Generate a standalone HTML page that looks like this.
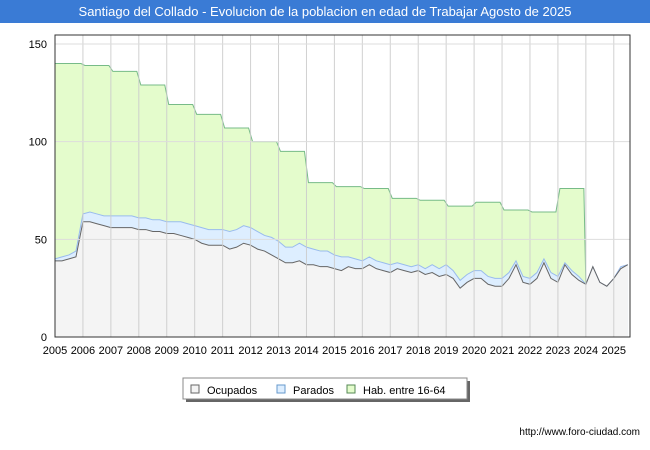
<!DOCTYPE html>
<html><head><meta charset="utf-8"><style>
body{margin:0;background:#fff;font-family:"Liberation Sans",sans-serif}
#wrap{position:relative;width:650px;height:450px;overflow:hidden}
#title{position:absolute;left:0;top:0;width:650px;height:23px;background:#3a7bd5;color:#fff;font-size:13px;text-align:center;line-height:23px}
#url{position:absolute;right:10px;top:427px;font-size:10px;color:#000}
</style></head><body>
<div id="wrap">
<div id="title">Santiago del Collado - Evolucion de la poblacion en edad de Trabajar Agosto de 2025</div>
<svg id="svg" width="650" height="450" style="position:absolute;left:0;top:0"></svg>
<div id="url">http://www.foro-ciudad.com</div>
</div>
<script>
const years=[2005,2006,2007,2008,2009,2010,2011,2012,2013,2014,2015,2016,2017,2018,2019,2020,2021,2022,2023,2024,2025];
const habValues=[140,139,136,129,119,114,107,100,95,79,77,76,71,70,67,69,65,64,76];
const yTicks=[0,50,100,150];
const ocupados=[39,39,40,41,59,59,58,57,56,56,56,56,55,55,54,54,53,53,52,51,50,48,47,47,47,45,46,48,47,45,44,42,40,38,38,39,37,37,36,36,35,34,36,35,35,37,35,34,33,35,34,33,34,32,33,31,32,30,25,28,30,30,27,26,26,30,37,28,27,30,38,30,28,37,32,29,27,36,28,26,30,35,37];
const parados=[1,2,2,3,4,5,5,5,6,6,6,6,6,6,6,6,6,6,7,7,7,8,8,8,8,9,9,9,9,9,8,9,9,8,8,9,9,8,8,8,7,7,5,5,4,4,4,4,4,3,3,3,3,3,4,4,5,4,4,4,4,4,4,4,4,3,2,3,3,3,2,3,3,1,2,2,0,0,0,0,0,1,0];
const NS="http://www.w3.org/2000/svg";
const svg=document.getElementById('svg');
const L=55,R=630,T=35,B=337,X0=2005,X1=2025.58;
const yScale=v=>B-v*293/150;
const xScale=t=>L+(t-X0)/(X1-X0)*(R-L);
function mk(tag,attrs,name){const e=document.createElementNS(NS,tag);for(const k in attrs)e.setAttribute(k,attrs[k]);


svg.appendChild(e);return e;}
mk('rect',{x:L,y:T,width:R-L,height:B-T,fill:'#fff'},'plot-background');
let hp=[];
habValues.forEach((v,i)=>{const x0=xScale(years[i]),x1=xScale(years[i]+1)-2;hp.push([x0+2,yScale(v)],[x1,yScale(v)]);});
const lastT=years[habValues.length];
let d='M'+xScale(X0)+','+B+' L'+xScale(X0)+','+yScale(habValues[0])+' '+hp.map(p=>p[0]+','+p[1]).join(' ')+' L'+xScale(lastT)+','+yScale(ocupados[(lastT-X0)*4]+parados[(lastT-X0)*4])+' L'+xScale(lastT)+','+B+'Z';
mk('path',{d:d,fill:'#e4fccc',stroke:'none'},'hab-area');
mk('path',{d:'M'+xScale(X0)+','+yScale(habValues[0])+' '+hp.map(p=>'L'+p[0]+','+p[1]).join(' ')+' L'+xScale(lastT)+','+yScale(ocupados[(lastT-X0)*4]+parados[(lastT-X0)*4]),fill:'none',stroke:'#77bb88','stroke-width':1},'hab-line');
const tt=ocupados.map((v,i)=>X0+i*0.25);
const act=ocupados.map((v,i)=>v+parados[i]);
const lineD=arr=>arr.map((v,i)=>(i?'L':'M')+xScale(tt[i])+','+yScale(v)).join(' ');
const xe=xScale(tt[tt.length-1]);
mk('path',{d:lineD(act)+' L'+xe+','+B+' L'+L+','+B+'Z',fill:'#ddeeff'},'parados-area');
mk('path',{d:lineD(ocupados)+' L'+xe+','+B+' L'+L+','+B+'Z',fill:'#f4f4f4'},'ocupados-area');
mk('path',{d:lineD(act),fill:'none',stroke:'#99bbee','stroke-width':1},'parados-line');
mk('path',{d:lineD(ocupados),fill:'none',stroke:'#666','stroke-width':1},'ocupados-line');
years.forEach(y=>{const x=xScale(y);if(y>X0)mk('line',{x1:x,x2:x,y1:T,y2:B,stroke:'#ccc','stroke-width':1,'opacity':0.9},'grid-x-'+y);
const t=mk('text',{x:x,y:354,'text-anchor':'middle','font-size':11,fill:'#000','font-family':'Liberation Sans'},'x-tick-'+y);t.textContent=y;});
yTicks.forEach(v=>{const y=yScale(v);if(v>0)mk('line',{x1:L,x2:R,y1:y,y2:y,stroke:'#ddd'},'grid-y-'+v);
const t=mk('text',{x:47,y:y+4,'text-anchor':'end','font-size':11,fill:'#000','font-family':'Liberation Sans'},'y-tick-'+v);t.textContent=v;});
mk('rect',{x:L,y:T,width:R-L,height:B-T,fill:'none',stroke:'#333','stroke-width':1},'plot-border');
mk('rect',{x:186,y:381,width:284,height:21,fill:'#666'},'legend-shadow');
mk('rect',{x:183,y:378,width:284,height:21,fill:'#fff',stroke:'#888'},'legend');
const leg=[['Ocupados','#f4f4f4','#666',191],['Parados','#ddeeff','#6699cc',277],['Hab. entre 16-64','#e4fccc','#558855',347]];
leg.forEach(l=>{mk('rect',{x:l[3],y:385,width:8,height:8,fill:l[1],stroke:l[2]},'legend-swatch-'+l[0]);
const t=mk('text',{x:l[3]+16,y:394,'font-size':11,fill:'#000','font-family':'Liberation Sans'},'legend-entry-'+l[0]);t.textContent=l[0];});
</script>
</body></html>
